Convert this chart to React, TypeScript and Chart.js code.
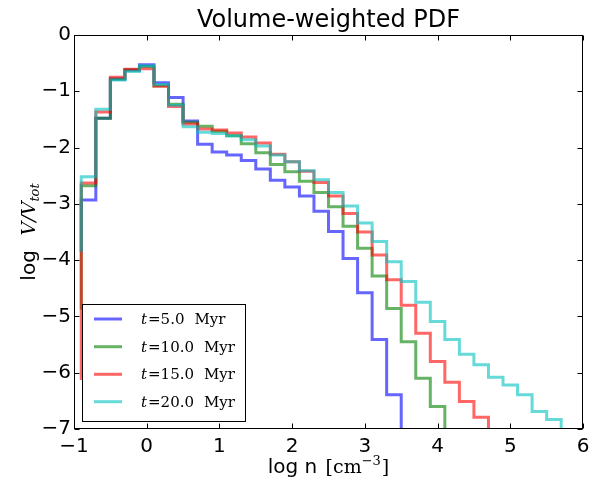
import React, { useEffect, useRef } from 'react';
import { Chart, registerables } from 'chart.js';

Chart.register(...registerables);

// Histogram bin edges (log n)
const binEdges = [
  -0.9, -0.7, -0.5, -0.3, -0.1, 0.1, 0.3, 0.5, 0.7, 0.9, 1.1, 1.3, 1.5, 1.7, 1.9, 2.1,
  2.3, 2.5, 2.7, 2.9, 3.1, 3.3, 3.5, 3.7, 3.9, 4.1, 4.3, 4.5, 4.7, 4.9, 5.1, 5.3, 5.5, 5.7,
];

// level from which each curve rises at the left-most edge
const leftEdgeLevels = [-3.85, -4.88, -6.13, -3.85];

// log V/Vtot per bin (bin j spans binEdges[j]..binEdges[j+1])
const pdf5 = [
  -2.93, -1.48, -0.78, -0.62, -0.53, -0.85, -1.11, -1.53, -1.94, -2.08, -2.13, -2.23,
  -2.38, -2.58, -2.7, -2.86, -3.13, -3.49, -3.97, -4.58, -5.41, -6.39,
];
const pdf10 = [
  -2.68, -1.48, -0.78, -0.62, -0.56, -0.9, -1.23, -1.55, -1.62, -1.71, -1.79, -1.93,
  -2.09, -2.3, -2.43, -2.6, -2.8, -3.05, -3.4, -3.79, -4.28, -4.86, -5.45, -6.1, -6.6,
];
const pdf15 = [
  -2.63, -1.37, -0.75, -0.61, -0.6, -0.91, -1.27, -1.58, -1.67, -1.69, -1.74, -1.81,
  -1.92, -2.12, -2.25, -2.42, -2.62, -2.86, -3.17, -3.5, -3.91, -4.35, -4.8, -5.3, -5.8,
  -6.17, -6.51, -6.79,
];
const pdf20 = [
  -2.52, -1.32, -0.8, -0.65, -0.55, -0.88, -1.25, -1.63, -1.73, -1.75, -1.79, -1.86,
  -1.97, -2.13, -2.25, -2.41, -2.57, -2.8, -3.04, -3.34, -3.67, -4.03, -4.38, -4.75, -5.09,
  -5.41, -5.67, -5.86, -6.08, -6.22, -6.39, -6.69, -6.83,
];

const seriesTimes = ['5.0', '10.0', '15.0', '20.0'];
const seriesColors = [
  'rgba(0,0,255,0.6)',
  'rgba(0,128,0,0.6)',
  'rgba(255,0,0,0.6)',
  'rgba(0,191,191,0.6)',
];
const seriesValues = [pdf5, pdf10, pdf15, pdf20];

const xTicks = [-1, 0, 1, 2, 3, 4, 5, 6];
const yTicks = [-7, -6, -5, -4, -3, -2, -1, 0];
const floorValue = -10; // empty bins (log 0) drop below the axis

const titleText = 'Volume-weighted PDF';

type Run = { t: string; f: string; dy?: number; gap?: number };

function drawRuns(ctx: CanvasRenderingContext2D, runs: Run[], x: number, y: number, align: 'center' | 'left') {
  let total = 0;
  for (const r of runs) {
    ctx.font = r.f;
    total += ctx.measureText(r.t).width + (r.gap || 0);
  }
  let cx = align === 'center' ? x - total / 2 : x;
  ctx.textAlign = 'left';
  ctx.textBaseline = 'alphabetic';
  for (const r of runs) {
    ctx.font = r.f;
    ctx.fillText(r.t, cx, y + (r.dy || 0));
    cx += ctx.measureText(r.t).width + (r.gap || 0);
  }
}

const fmt = (v: number) => (v < 0 ? '\u2212' + Math.abs(v) : String(v));

const decorPlugin = {
  id: 'decor',
  afterDraw(chart: any) {
    const { ctx, chartArea: a, scales } = chart;
    const xs = scales.x;
    const ys = scales.y;
    ctx.save();
    // frame
    ctx.strokeStyle = '#000';
    ctx.lineWidth = 1;
    const L = Math.round(a.left) + 0.5;
    const T = Math.round(a.top) + 0.5;
    const R = Math.round(a.right) - 0.5;
    const B = Math.round(a.bottom) - 0.5;
    ctx.strokeRect(L, T, R - L, B - T);
    // inward ticks on all four sides
    const TL = 5;
    ctx.beginPath();
    xTicks.forEach((v) => {
      const px = Math.round(xs.getPixelForValue(v)) + 0.5;
      ctx.moveTo(px, B);
      ctx.lineTo(px, B - TL);
      ctx.moveTo(px, T);
      ctx.lineTo(px, T + TL);
    });
    yTicks.forEach((v) => {
      const py = Math.round(ys.getPixelForValue(v)) + 0.5;
      ctx.moveTo(L, py);
      ctx.lineTo(L + TL, py);
      ctx.moveTo(R, py);
      ctx.lineTo(R - TL, py);
    });
    ctx.stroke();

    ctx.fillStyle = '#000';
    // title
    ctx.font = '24px "DejaVu Sans"';
    ctx.textAlign = 'center';
    ctx.textBaseline = 'alphabetic';
    ctx.fillText(titleText, (a.left + a.right) / 2, 27);

    // x label
    drawRuns(
      ctx,
      [
        { t: 'log n ', f: '20px "DejaVu Sans"', gap: 2 },
        { t: '[cm', f: '19px "DejaVu Serif"' },
        { t: '\u22123', f: '13px "DejaVu Serif"', dy: -8, gap: 1 },
        { t: ']', f: '19px "DejaVu Serif"' },
      ],
      (a.left + a.right) / 2,
      473,
      'center'
    );

    // y label (rotated)
    ctx.save();
    ctx.translate(35, (a.top + a.bottom) / 2);
    ctx.rotate(-Math.PI / 2);
    drawRuns(
      ctx,
      [
        { t: 'log  ', f: '20px "DejaVu Sans"', gap: 2 },
        { t: 'V/V', f: 'italic 19px "DejaVu Serif"' },
        { t: 'tot', f: 'italic 13px "DejaVu Serif"', dy: 4 },
      ],
      0,
      0,
      'center'
    );
    ctx.restore();

    // legend
    const bx = 82.5, by = 304.5, bw = 163, bh = 117;
    ctx.fillStyle = '#fff';
    ctx.fillRect(bx, by, bw, bh);
    ctx.strokeStyle = '#000';
    ctx.lineWidth = 1;
    ctx.strokeRect(bx, by, bw, bh);
    const rowY = [319, 346.7, 374.3, 401.7];
    seriesTimes.forEach((tm, i) => {
      const yy = rowY[i];
      ctx.strokeStyle = seriesColors[i];
      ctx.lineWidth = 3;
      ctx.beginPath();
      ctx.moveTo(94, yy);
      ctx.lineTo(122, yy);
      ctx.stroke();
      ctx.fillStyle = '#000';
      drawRuns(
        ctx,
        [
          { t: 't', f: 'italic 15px "DejaVu Serif"', gap: 1 },
          { t: '=', f: '15px "DejaVu Serif"', gap: 0 },
          { t: tm, f: '15px "DejaVu Serif"', gap: 10 },
          { t: 'Myr', f: '15px "DejaVu Serif"' },
        ],
        141,
        yy + 5,
        'left'
      );
    });
    ctx.restore();
  },
};

function stepPoints(values: number[], startLevel: number) {
  const pts = [{ x: binEdges[0], y: startLevel }];
  values.forEach((v, j) => pts.push({ x: binEdges[j], y: v }));
  pts.push({ x: binEdges[values.length], y: floorValue });
  return pts;
}

export default function App() {
  const ref = useRef<HTMLCanvasElement | null>(null);
  useEffect(() => {
    if (!ref.current) return;
    const chart = new Chart(ref.current, {
      type: 'line',
      data: {
        datasets: seriesValues.map((vals, i) => ({
          label: 't=' + seriesTimes[i] + ' Myr',
          data: stepPoints(vals, leftEdgeLevels[i]),
          borderColor: seriesColors[i],
          backgroundColor: seriesColors[i],
          borderWidth: 3,
          pointRadius: 0,
          stepped: 'before',
          fill: false,
          clip: { left: 0, right: 0, top: 0, bottom: 0 },
          order: 4 - i,
          borderJoinStyle: 'miter',
          borderCapStyle: 'butt',
        })),
      },
      options: {
        animation: false,
        responsive: false,
        parsing: false,
        layout: { padding: { top: 35, right: 17, left: 0, bottom: 0 } },
        plugins: { legend: { display: false }, tooltip: { enabled: false }, title: { display: false } },
        scales: {
          x: {
            type: 'linear',
            min: -1,
            max: 6,
            grid: { display: false, drawTicks: false },
            border: { display: false },
            afterBuildTicks: (s: any) => {
              s.ticks = xTicks.map((v) => ({ value: v }));
            },
            afterFit: (s: any) => {
              s.height = 53;
            },
            ticks: {
              color: '#000',
              padding: 6,
              font: { family: 'DejaVu Sans', size: 20 },
              callback: (v: any) => fmt(Number(v)),
              maxRotation: 0,
            },
          },
          y: {
            type: 'linear',
            min: -7,
            max: 0,
            grid: { display: false, drawTicks: false },
            border: { display: false },
            afterBuildTicks: (s: any) => {
              s.ticks = yTicks.map((v) => ({ value: v }));
            },
            afterFit: (s: any) => {
              s.width = 74;
            },
            ticks: {
              color: '#000',
              padding: 3,
              font: { family: 'DejaVu Sans', size: 20 },
              callback: (v: any) => fmt(Number(v)),
            },
          },
        },
      },
      plugins: [decorPlugin],
    } as any);
    return () => chart.destroy();
  }, []);
  return (
    <div style={{ position: 'absolute', left: 0, top: 0, width: 600, height: 482, background: '#fff' }}>
      <canvas ref={ref} width={600} height={482} style={{ display: 'block', width: 600, height: 482 }} />
    </div>
  );
}
